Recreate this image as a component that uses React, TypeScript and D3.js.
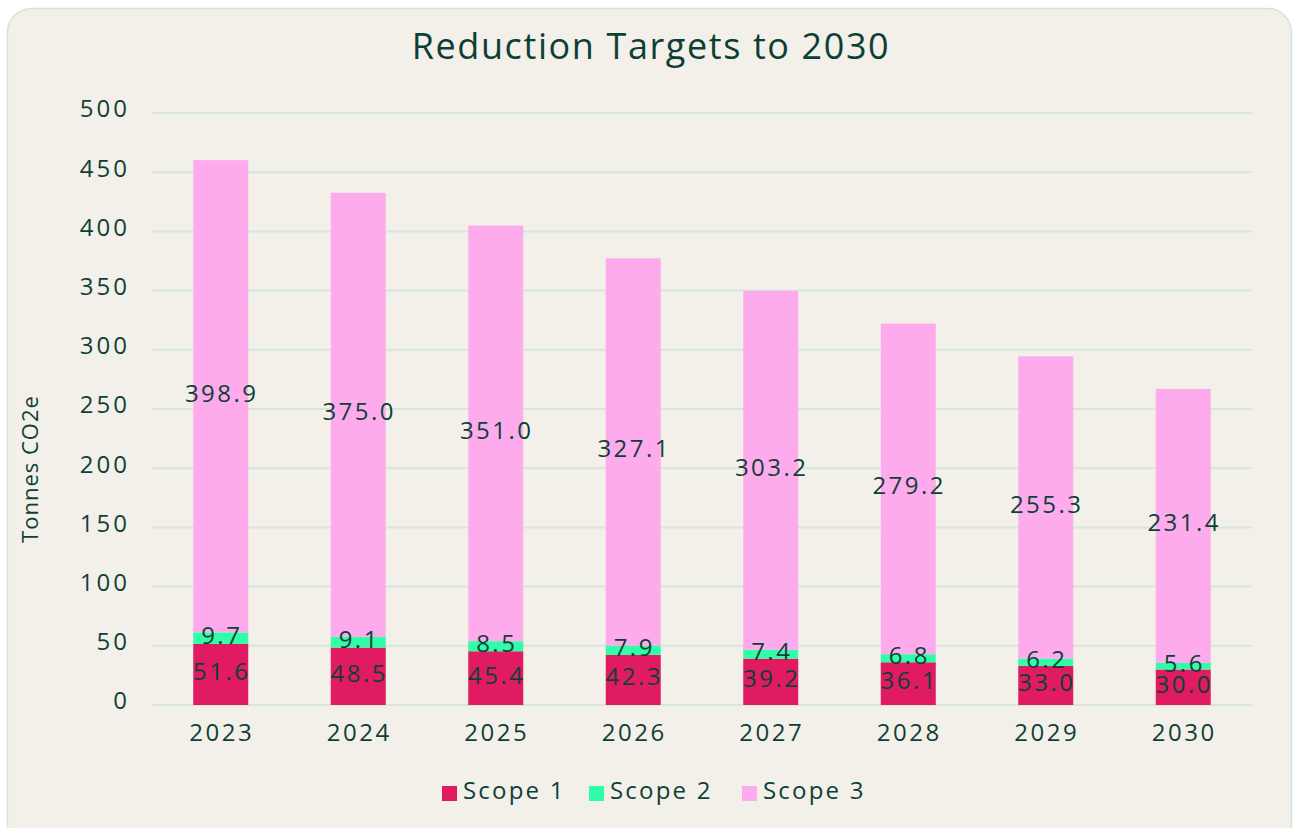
import { useEffect, useRef } from 'react';
import * as d3 from 'd3';

const years = ['2023', '2024', '2025', '2026', '2027', '2028', '2029', '2030'];
const scope1 = [51.6, 48.5, 45.4, 42.3, 39.2, 36.1, 33.0, 30.0];
const scope2 = [9.7, 9.1, 8.5, 7.9, 7.4, 6.8, 6.2, 5.6];
const scope3 = [398.9, 375.0, 351.0, 327.1, 303.2, 279.2, 255.3, 231.4];
const yTicks = [0, 50, 100, 150, 200, 250, 300, 350, 400, 450, 500];

const seriesNames = ['Scope 1', 'Scope 2', 'Scope 3'];
const seriesColors = ['#e11b61', '#30fda7', '#fdabec'];

const W = 1293;
const H = 828;
const textColor = '#0e3f37';
const font = '"Open Sans", Lato, sans-serif';

export default function App() {
  const svgRef = useRef<SVGSVGElement>(null);

  useEffect(() => {
    if (!svgRef.current) return;
    const svg = d3.select(svgRef.current);
    svg.selectAll('*').remove();

    const margin = { top: 113, right: 41, bottom: 123, left: 152 };
    const innerW = W - margin.left - margin.right;
    const innerH = H - margin.top - margin.bottom;

    // card
    svg.append('rect')
      .attr('x', 7.5).attr('y', 8.5)
      .attr('width', W - 9).attr('height', H + 20)
      .attr('rx', 24)
      .attr('fill', '#f3f0e9')
      .attr('stroke', '#d5e3de')
      .attr('stroke-width', 1.5);

    svg.append('text')
      .attr('x', 651).attr('y', 59)
      .attr('text-anchor', 'middle')
      .attr('fill', textColor)
      .attr('font-family', font)
      .attr('font-size', 36)
      .attr('letter-spacing', 1.6)
      .text('Reduction Targets to 2030');

    const g = svg.append('g').attr('transform', 'translate(' + margin.left + ',' + margin.top + ')');

    const x = d3.scaleBand().domain(years).range([0, innerW]).paddingInner(0.6).paddingOuter(0.3);
    const y = d3.scaleLinear().domain([0, 500]).range([innerH, 0]);

    // gridlines
    g.selectAll('.grid')
      .data(yTicks)
      .join('line')
      .attr('x1', 0).attr('x2', innerW)
      .attr('y1', d => y(d)).attr('y2', d => y(d))
      .attr('stroke', '#d8e5df')
      .attr('stroke-width', 2);

    g.selectAll('.ytick')
      .data(yTicks)
      .join('text')
      .attr('x', -22)
      .attr('y', d => y(d) - 4)
      .attr('dy', '0.35em')
      .attr('text-anchor', 'end')
      .attr('fill', textColor)
      .attr('font-family', font)
      .attr('font-size', 24)
      .attr('letter-spacing', 3)
      .text(d => d);

    svg.append('text')
      .attr('transform', 'translate(38,469) rotate(-90)')
      .attr('text-anchor', 'middle')
      .attr('fill', textColor)
      .attr('font-family', font)
      .attr('font-size', 22)
      .attr('letter-spacing', 1)
      .text('Tonnes CO2e');

    const table = years.map((yr, i) => ({ year: yr, s1: scope1[i], s2: scope2[i], s3: scope3[i] }));
    const stack = d3.stack<any>().keys(['s1', 's2', 's3'])(table);

    stack.forEach((layer, li) => {
      g.selectAll('.bar' + li)
        .data(layer)
        .join('rect')
        .attr('x', d => x(d.data.year)!)
        .attr('width', x.bandwidth())
        .attr('y', d => y(d[1]))
        .attr('height', d => y(d[0]) - y(d[1]))
        .attr('fill', seriesColors[li]);
    });

    stack.forEach((layer) => {
      g.selectAll('.lbl' + layer.key)
        .data(layer)
        .join('text')
        .attr('x', d => x(d.data.year)! + x.bandwidth() / 2 + 1)
        .attr('y', d => y((d[0] + d[1]) / 2) - 3)
        .attr('dy', '0.35em')
        .attr('text-anchor', 'middle')
        .attr('fill', textColor)
        .attr('font-family', font)
        .attr('font-size', 24)
        .attr('letter-spacing', 2.5)
        .text(d => (d[1] - d[0]).toFixed(1));
    });

    g.selectAll('.xtick')
      .data(years)
      .join('text')
      .attr('x', d => x(d)! + x.bandwidth() / 2 + 1)
      .attr('y', innerH + 36)
      .attr('text-anchor', 'middle')
      .attr('fill', textColor)
      .attr('font-family', font)
      .attr('font-size', 24)
      .attr('letter-spacing', 2.5)
      .text(d => d);

    // legend
    const legendX = [442, 589, 742];
    seriesNames.forEach((name, i) => {
      svg.append('rect')
        .attr('x', legendX[i]).attr('y', 786)
        .attr('width', 15).attr('height', 15)
        .attr('fill', seriesColors[i]);
      svg.append('text')
        .attr('x', legendX[i] + 21).attr('y', 799)
        .attr('fill', textColor)
        .attr('font-family', font)
        .attr('font-size', 24)
        .attr('letter-spacing', 2.2)
        .text(name);
    });
  }, []);

  return (
    <div style={{ position: 'fixed', left: 0, top: 0 }}>
      <svg ref={svgRef} width={W} height={H} style={{ display: 'block', background: '#fff' }} />
    </div>
  );
}
